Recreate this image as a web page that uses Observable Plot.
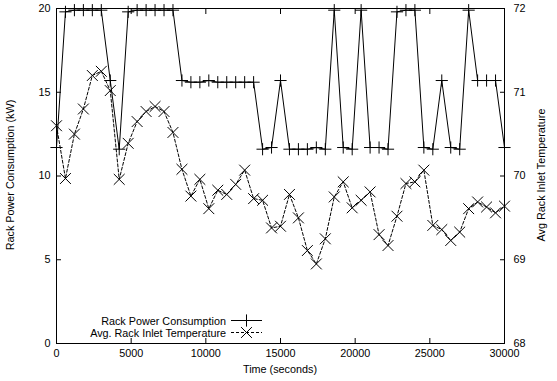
<!DOCTYPE html>
<html><head><meta charset="utf-8">
<script src="https://cdn.jsdelivr.net/npm/d3@7"></script>
<script src="https://cdn.jsdelivr.net/npm/@observablehq/plot@0.6"></script>
<style>body{margin:0;background:#fff}</style>
</head><body><div id="chart"></div>
<script>
const times = [0,600,1200,1800,2400,3000,3600,4200,4800,5400,6000,6600,7200,7800,8400,9000,9600,10200,10800,11400,12000,12600,13200,13800,14400,15000,15600,16200,16800,17400,18000,18600,19200,19800,20400,21000,21600,22200,22800,23400,24000,24600,25200,25800,26400,27000,27600,28200,28800,29400,30000];
const power = [11.7,19.8,19.9,19.9,19.9,19.9,15.7,11.6,19.8,19.9,19.9,19.9,19.9,19.9,15.7,15.6,15.6,15.7,15.6,15.6,15.6,15.6,15.6,11.6,11.7,15.7,11.6,11.6,11.6,11.7,11.6,19.9,11.7,11.6,19.9,11.7,11.7,11.6,19.8,19.9,19.9,11.7,11.6,15.7,11.7,11.6,19.9,15.7,15.7,15.7,11.7];
const temperature = [70.60,69.97,70.50,70.80,71.20,71.25,71.02,69.96,70.39,70.65,70.77,70.83,70.77,70.52,70.08,69.76,69.96,69.61,69.83,69.78,69.90,70.07,69.73,69.71,69.38,69.40,69.78,69.50,69.11,68.95,69.25,69.75,69.93,69.62,69.71,69.81,69.30,69.17,69.52,69.91,69.93,70.07,69.41,69.36,69.23,69.33,69.61,69.69,69.63,69.56,69.64];
const xTicks = [0,5000,10000,15000,20000,25000,30000];
const yTicks = [0,5,10,15,20];
const y2Ticks = [68,69,70,71,72];
const seriesNames = ["Rack Power Consumption","Avg. Rack Inlet Temperature"];
const xTitle = "Time (seconds)";
const yTitle = "Rack Power Consumption (kW)";
const y2Title = "Avg Rack Inlet Temperature";

const powerData = times.map((t,i)=>({t, v: power[i]}));
const tempData = times.map((t,i)=>({t, v: temperature[i]}));
// right axis (68..72) mapped onto left scale (0..20)
const toLeft = T => (T - 68) * 5;
const fromLeft = v => 68 + v / 5;
const FONT = "Liberation Sans, Arial, Helvetica, sans-serif";
const FS = 10.8;
const rPlus = 4, rTimes = 5;

const chart = Plot.plot({
  width: 557, height: 381,
  marginLeft: 56, marginRight: 53, marginTop: 8, marginBottom: 38,
  style: {fontFamily: FONT, fontSize: FS + "px", background: "white", color: "black"},
  x: {domain: [0, 30000]},
  y: {domain: [0, 20]},
  marks: [
    Plot.axisX({ticks: xTicks, tickSize: -5, tickPadding: 11, tickFormat: d => String(d), label: null}),
    Plot.axisX({anchor: "top", ticks: xTicks, tickSize: -5, tickFormat: () => "", label: null}),
    Plot.axisY({ticks: yTicks, tickSize: -5, tickPadding: 11, tickFormat: d => String(d), label: null}),
    Plot.axisY({anchor: "right", ticks: y2Ticks.map(toLeft), tickSize: -5, tickPadding: 14, tickFormat: d => String(Math.round(fromLeft(d))), label: null}),
    Plot.line(tempData, {x: "t", y: d => toLeft(d.v), stroke: "black", strokeWidth: 1, strokeDasharray: "3,2"}),
    Plot.dot(tempData, {x: "t", y: d => toLeft(d.v), symbol: "times", r: rTimes, stroke: "black", strokeWidth: 1}),
    Plot.line(powerData, {x: "t", y: "v", stroke: "black", strokeWidth: 1}),
    Plot.dot(powerData, {x: "t", y: "v", symbol: "plus", r: rPlus, stroke: "black", strokeWidth: 1}),
    Plot.frame({stroke: "black", strokeWidth: 1})
  ]
});
document.getElementById("chart").appendChild(chart);

const svg = d3.select(chart);
const g = svg.append("g").attr("font-family", FONT).attr("font-size", FS).attr("fill", "black");
g.append("text").attr("transform", "translate(14,175) rotate(-90)").attr("text-anchor", "middle").text(yTitle);
g.append("text").attr("transform", "translate(545,175) rotate(-90)").attr("text-anchor", "middle").text(y2Title);
g.append("text").attr("x", 280).attr("y", 373).attr("text-anchor", "middle").text(xTitle);

// legend
const rows = [{y: 320.5, dash: null, sym: d3.symbolPlus, r: rPlus}, {y: 332.5, dash: "3,2", sym: d3.symbolTimes, r: rTimes}];
rows.forEach((row, i) => {
  g.append("text").attr("x", 226).attr("y", row.y + 4).attr("text-anchor", "end").text(seriesNames[i]);
  g.append("line").attr("x1", 231).attr("x2", 262).attr("y1", row.y).attr("y2", row.y)
    .attr("stroke", "black").attr("stroke-width", 1).attr("stroke-dasharray", row.dash);
  g.append("path").attr("transform", `translate(246.5,${row.y})`)
    .attr("d", d3.symbol(row.sym, Math.PI * row.r * row.r)())
    .attr("fill", "none").attr("stroke", "black").attr("stroke-width", 1);
});
</script>
</body></html>
